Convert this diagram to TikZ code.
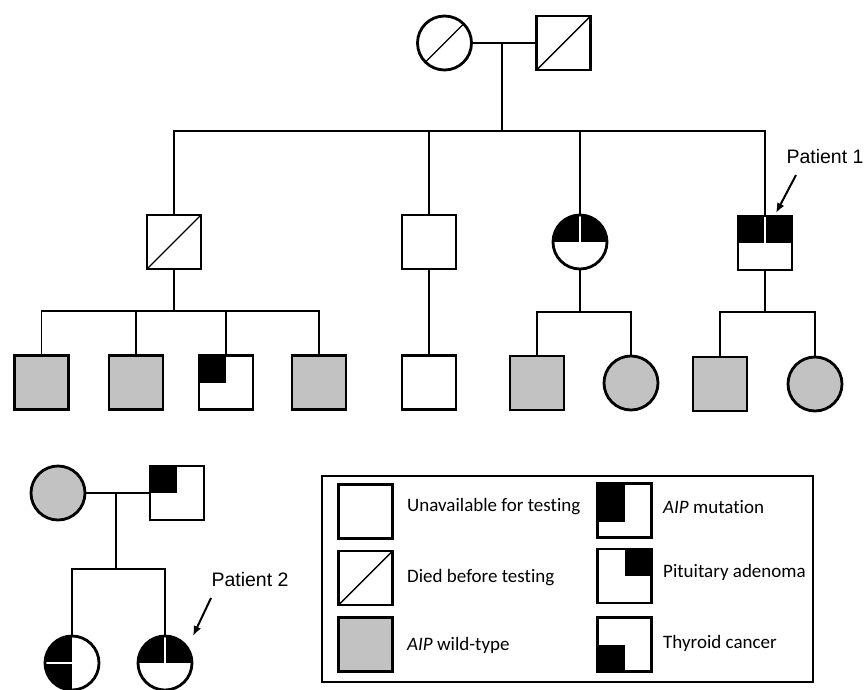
\documentclass[tikz,border=0pt]{standalone}
\usepackage{fontspec}
\setmainfont[Ligatures=NoCommon]{Carlito}
\newfontfamily\arialf{Liberation Sans}
\usetikzlibrary{arrows.meta}
\definecolor{wtgray}{gray}{0.76}
\begin{document}
\begin{tikzpicture}[x=1pt,y=-1pt,
  ind/.style={draw=black, line width=2.8pt, inner sep=0pt, minimum size=54pt, fill=white},
  sq/.style={ind, rectangle},
  ci/.style={ind, circle},
  wt/.style={fill=wtgray},
  died/.style={path picture={\draw[black,line width=1.4pt] (path picture bounding box.south west) -- (path picture bounding box.north east);}},
  mut/.style={path picture={\fill[black] (path picture bounding box.north west) rectangle (path picture bounding box.center);}},
  mutleg/.style={path picture={\fill[black] (path picture bounding box.north west) rectangle ([yshift=-11pt]path picture bounding box.center);}},
  pit/.style={path picture={\fill[black] (path picture bounding box.north) rectangle (path picture bounding box.east);}},
  thy/.style={path picture={\fill[black] (path picture bounding box.west) rectangle (path picture bounding box.south);}},
  mutpit/.style={path picture={\fill[black] (path picture bounding box.north west) rectangle (path picture bounding box.east);
     \draw[white,line width=2.5pt] (path picture bounding box.north) -- (path picture bounding box.center);}},
  mutthy/.style={path picture={\fill[black] (path picture bounding box.north west) rectangle (path picture bounding box.south);
     \draw[white,line width=2.5pt] (path picture bounding box.west) -- (path picture bounding box.center);}},
  link/.style={line width=1.6pt},
  pointer/.style={line width=2pt, -{Latex[length=10pt,width=8pt]}},
  lab/.style={font=\arialf\fontsize{19.5}{21}\selectfont},
  leg/.style={anchor=west, inner sep=0pt, font=\fontsize{19}{22}\selectfont}
]
\useasboundingbox (0,0) rectangle (865,689);

% generation I
\node[ci,died] (gm) at (444.5,43) {};
\node[sq,died] (gf) at (563.5,43) {};
\coordinate (m1) at (502,43);
\coordinate (s1) at (502,131);

% generation II
\node[sq,died] (a) at (174,242) {};
\node[sq] (b) at (429,242) {};
\node[ci,mutpit] (c) at (580,242) {};
\node[sq,mutpit] (p1) at (765,243) {};

% generation III
\coordinate (sa) at (174,311);
\node[sq,wt] (a1) at (41.5,382.5) {};
\node[sq,wt] (a2) at (136,382.5) {};
\node[sq,mut] (a3) at (226,382.5) {};
\node[sq,wt] (a4) at (319,382.5) {};
\node[sq] (b1) at (429,382.5) {};
\coordinate (sc) at (580,312);
\node[sq,wt] (c1) at (537,383) {};
\node[ci,wt] (c2) at (631,383) {};
\coordinate (sp) at (765,312);
\node[sq,wt] (d1) at (720,384) {};
\node[ci,wt] (d2) at (815,384) {};

% second family
\node[ci,wt] (e1) at (58,493) {};
\node[sq,mut] (e2) at (177,493) {};
\coordinate (me) at (116,493);
\coordinate (se) at (116,569);
\node[ci,mutthy] (f1) at (72,663) {};
\node[ci,mutpit] (f2) at (165,663) {};

% connectors
\draw[link] (gm) -- (gf);
\draw[link] (m1) -- (s1);
\draw[link] (a.north) |- (s1) -| (p1.north);
\draw[link] (b.north) -- (b.north |- s1);
\draw[link] (c.north) -- (c.north |- s1);

\draw[link] (a.south) -- (sa);
\draw[link] (a1.north) |- (sa) -| (a4.north);
\draw[link] (a2.north) -- (a2.north |- sa);
\draw[link] (a3.north) -- (a3.north |- sa);
\draw[link] (b.south) -- (b1.north);
\draw[link] (c.south) -- (sc);
\draw[link] (c1.north) |- (sc) -| (c2.north);
\draw[link] (p1.south) -- (sp);
\draw[link] (d1.north) |- (sp) -| (d2.north);

\draw[link] (e1) -- (e2);
\draw[link] (me) -- (se);
\draw[link] (f1.north) |- (se) -| (f2.north);

% patient labels
\node[lab] (pl1) at (825,157) {Patient 1};
\coordinate (pa1s) at (796,175);
\coordinate (pa1e) at (776,213);
\draw[pointer] (pa1s) -- (pa1e);
\node[lab] (pl2) at (250,580) {Patient 2};
\coordinate (pa2s) at (211,598);
\coordinate (pa2e) at (193,636);
\draw[pointer] (pa2s) -- (pa2e);

% legend
\node[draw, line width=2pt, minimum width=491pt, minimum height=206pt, inner sep=0pt] (legbox) at (567.5,579) {};
\node[sq] (l1) at (365.5,511.5) {};
\node[sq,died] (l2) at (365.5,578) {};
\node[sq,wt] (l3) at (365.5,644.5) {};
\node[sq,mutleg] (l4) at (624.5,510.5) {};
\node[sq,pit] (l5) at (624.5,576) {};
\node[sq,thy] (l6) at (624.5,644.5) {};
\node[leg] (t1) at (407,507) {Unavailable for testing};
\node[leg] (t2) at (407,578) {Died before testing};
\node[leg] (t3) at (407,645) {\textit{AIP} wild-type};
\node[leg] (t4) at (663,507) {\textit{AIP} mutation};
\node[leg] (t5) at (663,572) {Pituitary adenoma};
\node[leg] (t6) at (663,643) {Thyroid cancer};
\end{tikzpicture}
\end{document}
